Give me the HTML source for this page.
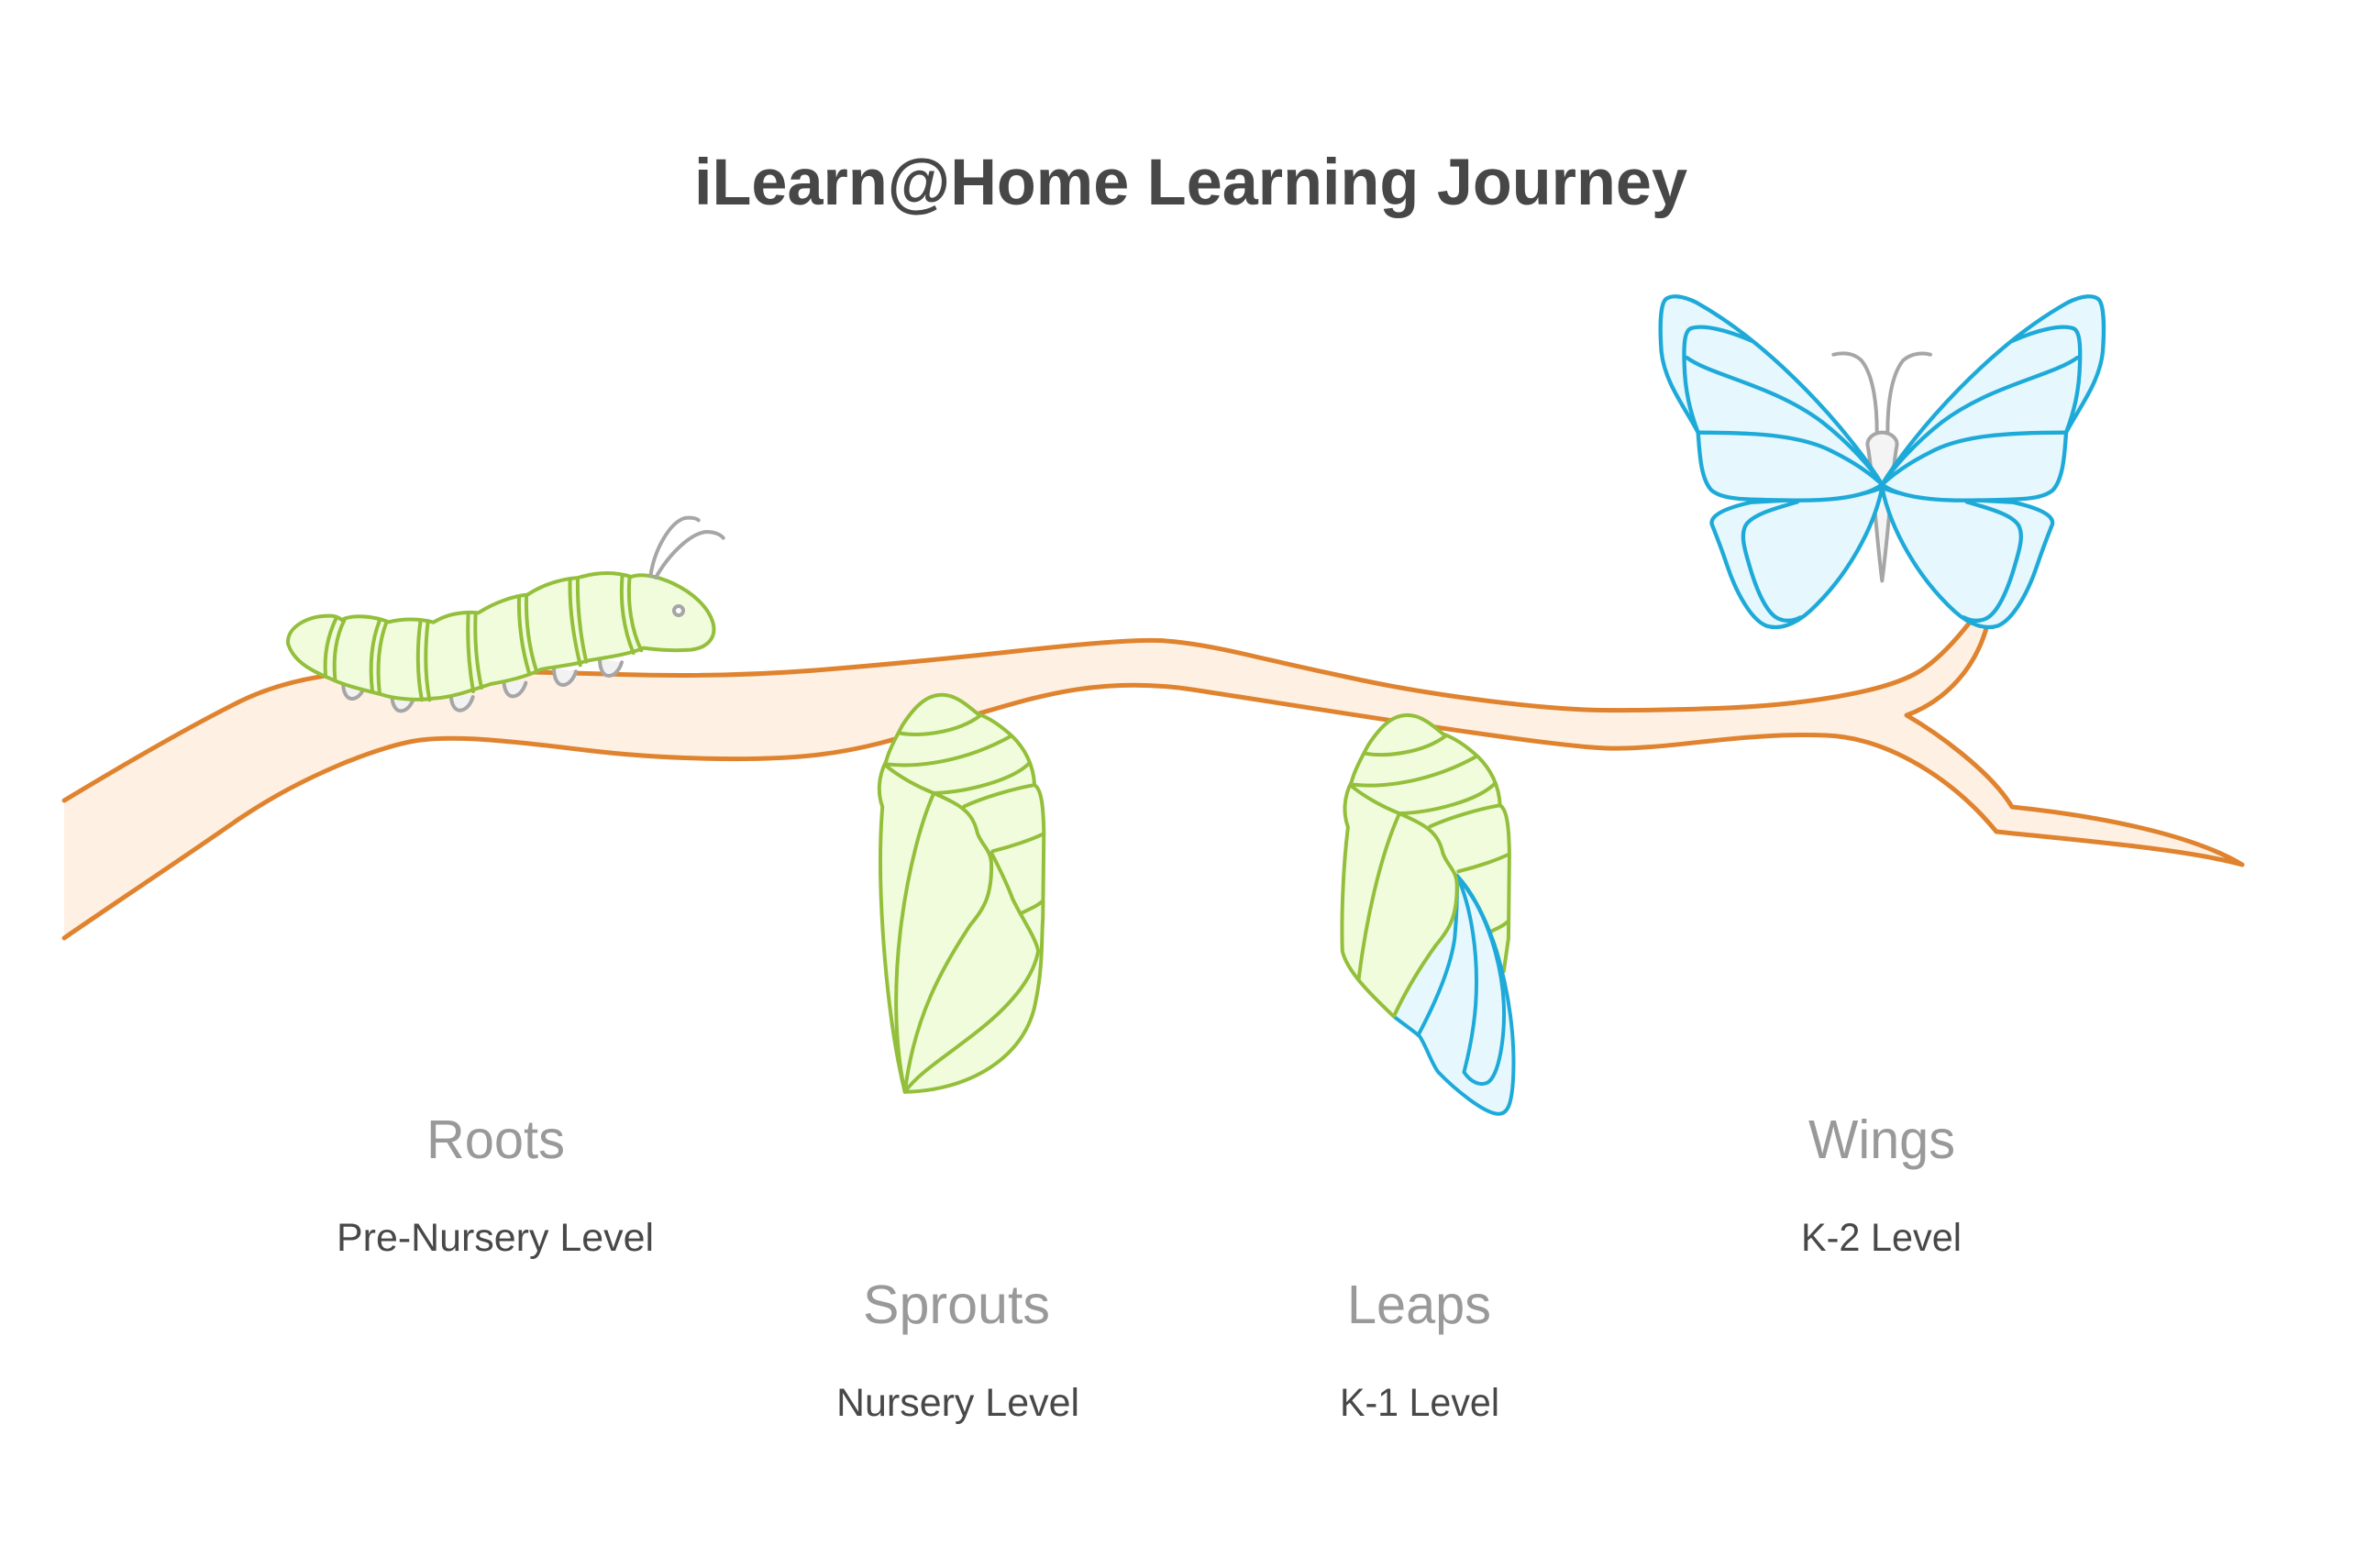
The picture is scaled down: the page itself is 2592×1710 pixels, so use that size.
<!DOCTYPE html>
<html>
<head>
<meta charset="utf-8">
<style>
html,body{margin:0;padding:0;background:#ffffff;}
svg{display:block;}
</style>
</head>
<body>
<svg width="2592" height="1710" viewBox="0 0 2592 1710" xmlns="http://www.w3.org/2000/svg">
<rect x="0" y="0" width="2592" height="1710" fill="#ffffff"/>

<!-- Title -->
<text x="757" y="223" font-family="'Liberation Sans', Arial, sans-serif" font-weight="700" font-size="71" fill="#474747" textLength="1083" lengthAdjust="spacingAndGlyphs">iLearn@Home Learning Journey</text>

<!-- Branch -->
<path d="M70,873 Q191,800 261.5,765 Q332,730 446,731 Q560,732 675.5,735.5 Q791,739 895.5,730.5 Q1000,722 1113.5,709.5 Q1227,697 1263.5,698.5 Q1300,700 1360,714 Q1420,728 1483.5,741.5 Q1547,755 1623.5,764.5 Q1700,774 1750,774.5 Q1800,775 1871.5,772.5 Q1943,770 2001.5,760 Q2060,750 2088,735 Q2116,720 2150,676 L2168,678 C2155,730 2120,765 2079,780 C2110,798 2170,840 2194,880 C2290,890 2390,910 2445,943 C2380,925 2250,915 2177,907 C2130,850 2060,805 1992,802 C1900,798 1820,818 1753,816 C1686,814 1450,775 1300,752 C1200,737 1130,760 1068,778 C1006,796 960,815 893,823 C826,831 720,828 638,818 C556,808 500,802 459,807 C418,812 330,845 255,897 C180,949 110,995 70,1023"
 fill="#FEF0E3" stroke="#E0832F" stroke-width="5" stroke-linejoin="round" stroke-linecap="round"/>

<!-- Caterpillar (local coords scale 1/3) -->
<g transform="translate(300,550) scale(0.33333)" stroke-linecap="round" stroke-linejoin="round">
  <g fill="#F2F2F2" stroke="#A6A6A6" stroke-width="12">
    <path d="M222,580 C222,615 234,638 254,636 C274,634 288,612 294,592"/>
    <path d="M382,620 C382,655 394,678 414,676 C434,674 448,652 454,632"/>
    <path d="M575,618 C575,653 587,676 607,674 C627,672 641,650 647,630"/>
    <path d="M748,572 C748,607 760,630 780,628 C800,626 814,604 820,584"/>
    <path d="M912,535 C912,570 924,593 944,591 C964,589 978,567 984,547"/>
    <path d="M1062,505 C1062,540 1074,563 1094,561 C1114,559 1128,537 1134,517"/>
  </g>
  <path d="M42,455 C38,400 110,362 185,365 C200,366 210,372 218,378 C250,360 320,365 372,385 C420,372 480,375 518,386 C560,360 610,350 665,355 C720,320 780,300 825,296 C880,260 940,244 992,240 C1050,222 1110,220 1165,237 C1200,225 1250,235 1300,258 C1370,290 1420,340 1433,390 C1445,440 1410,470 1360,476 C1300,480 1240,475 1205,470 C1160,490 1090,500 1030,510 C980,525 920,530 870,540 C820,565 760,578 705,588 C650,605 590,630 520,635 C470,642 400,640 340,620 C280,605 220,590 180,570 C120,545 60,515 42,455 Z"
   fill="#F1FCDC" stroke="#93BF3B" stroke-width="12"/>
  <g fill="none" stroke="#93BF3B" stroke-width="12">
    <path d="M200,372 C172,430 160,495 165,558"/>
    <path d="M226,380 C196,440 190,505 196,572"/>
    <path d="M342,380 C318,440 308,520 318,612"/>
    <path d="M364,386 C340,450 332,530 342,620"/>
    <path d="M476,380 C464,460 464,560 480,640"/>
    <path d="M500,383 C490,470 490,560 505,640"/>
    <path d="M632,355 C628,440 632,520 648,612"/>
    <path d="M656,355 C652,440 658,520 675,600"/>
    <path d="M798,300 C796,380 806,470 832,556"/>
    <path d="M822,297 C820,380 830,470 856,548"/>
    <path d="M965,245 C962,330 975,430 998,526"/>
    <path d="M990,241 C988,330 998,430 1018,515"/>
    <path d="M1136,232 C1128,320 1140,410 1172,486"/>
    <path d="M1160,236 C1152,320 1165,410 1198,478"/>
  </g>
  <g fill="none" stroke="#A6A6A6" stroke-width="12">
    <path d="M1228,235 C1240,150 1290,60 1340,45 C1360,42 1378,45 1385,52"/>
    <path d="M1245,240 C1290,160 1360,95 1410,90 C1440,90 1458,100 1466,110"/>
    <circle cx="1320" cy="348" r="15" fill="#ffffff"/>
  </g>
</g>

<!-- Chrysalis 1 (Sprouts) -->
<g transform="matrix(0.5102,0,0,0.35714,900,680)" fill="none" stroke="#93BF3B" stroke-linecap="round" stroke-linejoin="round">
  <path vector-effect="non-scaling-stroke" stroke-width="4" fill="#F1FCDC" d="M245,218 C215,220 190,255 165,310 C150,350 135,390 130,420 C112,470 112,520 122,560 C108,800 130,1200 170,1430 C300,1428 430,1330 450,1150 C465,1050 462,950 465,900 L467,640 C466,560 462,505 447,493 C445,430 425,380 400,345 C370,305 345,285 325,275 C300,245 275,215 245,218 Z"/>
  <path vector-effect="non-scaling-stroke" stroke-width="4" d="M160,335 C200,345 280,335 330,282"/>
  <path vector-effect="non-scaling-stroke" stroke-width="4" d="M135,430 C200,440 300,420 395,345"/>
  <path vector-effect="non-scaling-stroke" stroke-width="4" d="M130,435 C160,470 200,500 232,518"/>
  <path vector-effect="non-scaling-stroke" stroke-width="4" d="M232,518 C300,515 400,480 437,425"/>
  <path vector-effect="non-scaling-stroke" stroke-width="4" d="M297,558 C340,530 400,505 447,493"/>
  <path vector-effect="non-scaling-stroke" stroke-width="4" d="M232,518 C180,680 120,1100 170,1430"/>
  <path vector-effect="non-scaling-stroke" stroke-width="4" d="M232,518 C290,555 315,575 325,640 C335,680 355,690 355,740 C355,830 340,870 310,920 C250,1050 190,1200 170,1430"/>
  <path vector-effect="non-scaling-stroke" stroke-width="4" d="M355,700 C380,770 395,820 400,840 C420,900 450,960 455,1000 C445,1080 400,1160 330,1240 C260,1320 200,1370 170,1430"/>
  <path vector-effect="non-scaling-stroke" stroke-width="4" d="M358,695 C400,680 440,660 462,645"/>
  <path vector-effect="non-scaling-stroke" stroke-width="4" d="M418,885 C440,870 455,860 462,850"/>
</g>

<!-- Chrysalis 2 (Leaps) -->
<g transform="matrix(0.5102,0,0,0.35714,900,680) translate(995,62)" fill="none" stroke-linecap="round" stroke-linejoin="round">
  <g stroke="#93BF3B">
    <path vector-effect="non-scaling-stroke" stroke-width="4" fill="#F1FCDC" d="M245,218 C215,220 190,255 165,310 C150,350 135,390 130,420 C112,470 112,520 122,560 C110,700 108,850 110,938 C120,1000 170,1070 220,1138 L455,1000 L465,900 L467,640 C466,560 462,505 447,493 C445,430 425,380 400,345 C370,305 345,285 325,275 C300,245 275,215 245,218 Z"/>
    <path vector-effect="non-scaling-stroke" stroke-width="4" d="M160,335 C200,345 280,335 330,282"/>
    <path vector-effect="non-scaling-stroke" stroke-width="4" d="M135,430 C200,440 300,420 395,345"/>
    <path vector-effect="non-scaling-stroke" stroke-width="4" d="M130,435 C160,470 200,500 232,518"/>
    <path vector-effect="non-scaling-stroke" stroke-width="4" d="M232,518 C300,515 400,480 437,425"/>
    <path vector-effect="non-scaling-stroke" stroke-width="4" d="M297,558 C340,530 400,505 447,493"/>
    <path vector-effect="non-scaling-stroke" stroke-width="4" d="M232,518 C190,650 160,850 145,1023"/>
    <path vector-effect="non-scaling-stroke" stroke-width="4" d="M358,695 C400,680 440,660 462,645"/>
    <path vector-effect="non-scaling-stroke" stroke-width="4" d="M418,885 C440,870 455,860 462,850"/>
  </g>
  <g stroke="#1EAAD9">
    <path vector-effect="non-scaling-stroke" stroke-width="4" fill="#E6F7FD" stroke="none" d="M355,708 C390,760 420,850 440,940 C465,1060 480,1200 475,1330 C472,1400 465,1440 440,1435 C410,1430 350,1360 315,1308 C300,1280 290,1230 275,1198 C260,1180 240,1160 220,1138 C245,1060 280,980 310,920 C340,870 355,830 355,740 Z"/>
    <path vector-effect="non-scaling-stroke" stroke-width="4" d="M355,708 C390,760 420,850 440,940 C465,1060 480,1200 475,1330 C472,1400 465,1440 440,1435 C410,1430 350,1360 315,1308 C300,1280 290,1230 275,1198 C260,1180 240,1160 220,1138"/>
    <path vector-effect="non-scaling-stroke" stroke-width="4" d="M272,1195 C300,1120 340,1000 350,900 C355,820 356,760 355,708"/>
    <path vector-effect="non-scaling-stroke" stroke-width="4" d="M355,708 C385,800 402,950 395,1100 C390,1200 375,1280 370,1308 C385,1340 405,1350 420,1340 C445,1320 458,1200 455,1100 C452,1000 430,880 395,790 C380,755 365,725 355,708"/>
  </g>
  <path vector-effect="non-scaling-stroke" stroke-width="4" stroke="#93BF3B" d="M232,518 C290,555 315,575 325,640 C335,680 355,690 355,740 C355,830 340,870 310,920 C280,980 245,1060 220,1138"/>
</g>

<!-- Butterfly (local coords scale 1/3) -->
<g transform="translate(1800,310) scale(0.33333)" stroke-linecap="round" stroke-linejoin="round">
  <path d="M757,485 C730,485 705,505 710,530 C725,600 735,800 757,970 C780,800 790,600 805,530 C810,505 785,485 757,485 Z" fill="#F4F4F4" stroke="#A6A6A6" stroke-width="12"/>
  <path d="M740,482 C740,400 730,300 690,250 C660,220 620,225 598,230" fill="none" stroke="#A6A6A6" stroke-width="12"/>
  <path d="M775,482 C775,400 785,300 825,250 C855,222 895,225 915,230" fill="none" stroke="#A6A6A6" stroke-width="12"/>
  <g stroke="#1EAAD9" stroke-width="13">
    <path fill="#E6F7FD" d="M757,665 C730,800 640,960 520,1070 C470,1115 420,1130 380,1118 C330,1100 280,1010 250,920 C230,860 210,810 200,785 C195,760 230,735 330,713 L480,705 C600,705 700,690 757,665 Z"/>
    <path fill="none" d="M480,712 C400,735 330,755 310,790 C295,820 305,860 320,910 C345,1000 380,1080 420,1095 C445,1105 470,1100 490,1090"/>
    <path fill="#E6F7FD" d="M757,655 C650,480 400,200 150,60 C100,35 65,35 48,50 C30,70 30,150 35,220 C45,320 110,400 155,485 C160,560 165,640 200,675 C240,705 300,705 480,707 C620,708 710,690 757,655 Z"/>
    <path fill="none" d="M330,185 C250,150 170,130 130,145 C110,155 108,200 110,260 C112,350 130,420 155,485"/>
    <path fill="none" d="M118,240 C200,300 400,330 560,450 C650,520 720,600 757,655"/>
    <path fill="none" d="M155,485 C350,485 500,495 600,550 C680,590 730,630 757,655"/>
  </g>
  <g transform="translate(1514,0) scale(-1,1)" stroke="#1EAAD9" stroke-width="13">
    <path fill="#E6F7FD" d="M757,665 C730,800 640,960 520,1070 C470,1115 420,1130 380,1118 C330,1100 280,1010 250,920 C230,860 210,810 200,785 C195,760 230,735 330,713 L480,705 C600,705 700,690 757,665 Z"/>
    <path fill="none" d="M480,712 C400,735 330,755 310,790 C295,820 305,860 320,910 C345,1000 380,1080 420,1095 C445,1105 470,1100 490,1090"/>
    <path fill="#E6F7FD" d="M757,655 C650,480 400,200 150,60 C100,35 65,35 48,50 C30,70 30,150 35,220 C45,320 110,400 155,485 C160,560 165,640 200,675 C240,705 300,705 480,707 C620,708 710,690 757,655 Z"/>
    <path fill="none" d="M330,185 C250,150 170,130 130,145 C110,155 108,200 110,260 C112,350 130,420 155,485"/>
    <path fill="none" d="M118,240 C200,300 400,330 560,450 C650,520 720,600 757,655"/>
    <path fill="none" d="M155,485 C350,485 500,495 600,550 C680,590 730,630 757,655"/>
  </g>
</g>

<!-- Labels -->
<g font-family="'Liberation Sans', Arial, sans-serif">
  <text x="465" y="1263" font-size="59" fill="#999999" textLength="151" lengthAdjust="spacingAndGlyphs">Roots</text>
  <text x="367" y="1364" font-size="43" fill="#484848" textLength="346" lengthAdjust="spacingAndGlyphs">Pre-Nursery Level</text>
  <text x="941" y="1443" font-size="59" fill="#999999" textLength="204" lengthAdjust="spacingAndGlyphs">Sprouts</text>
  <text x="912" y="1544" font-size="43" fill="#484848" textLength="265" lengthAdjust="spacingAndGlyphs">Nursery Level</text>
  <text x="1469" y="1443" font-size="59" fill="#999999" textLength="157" lengthAdjust="spacingAndGlyphs">Leaps</text>
  <text x="1461" y="1544" font-size="43" fill="#484848" textLength="174" lengthAdjust="spacingAndGlyphs">K-1 Level</text>
  <text x="1972" y="1263" font-size="59" fill="#999999" textLength="160" lengthAdjust="spacingAndGlyphs">Wings</text>
  <text x="1964" y="1364" font-size="43" fill="#484848" textLength="175" lengthAdjust="spacingAndGlyphs">K-2 Level</text>
</g>
</svg>
</body>
</html>
